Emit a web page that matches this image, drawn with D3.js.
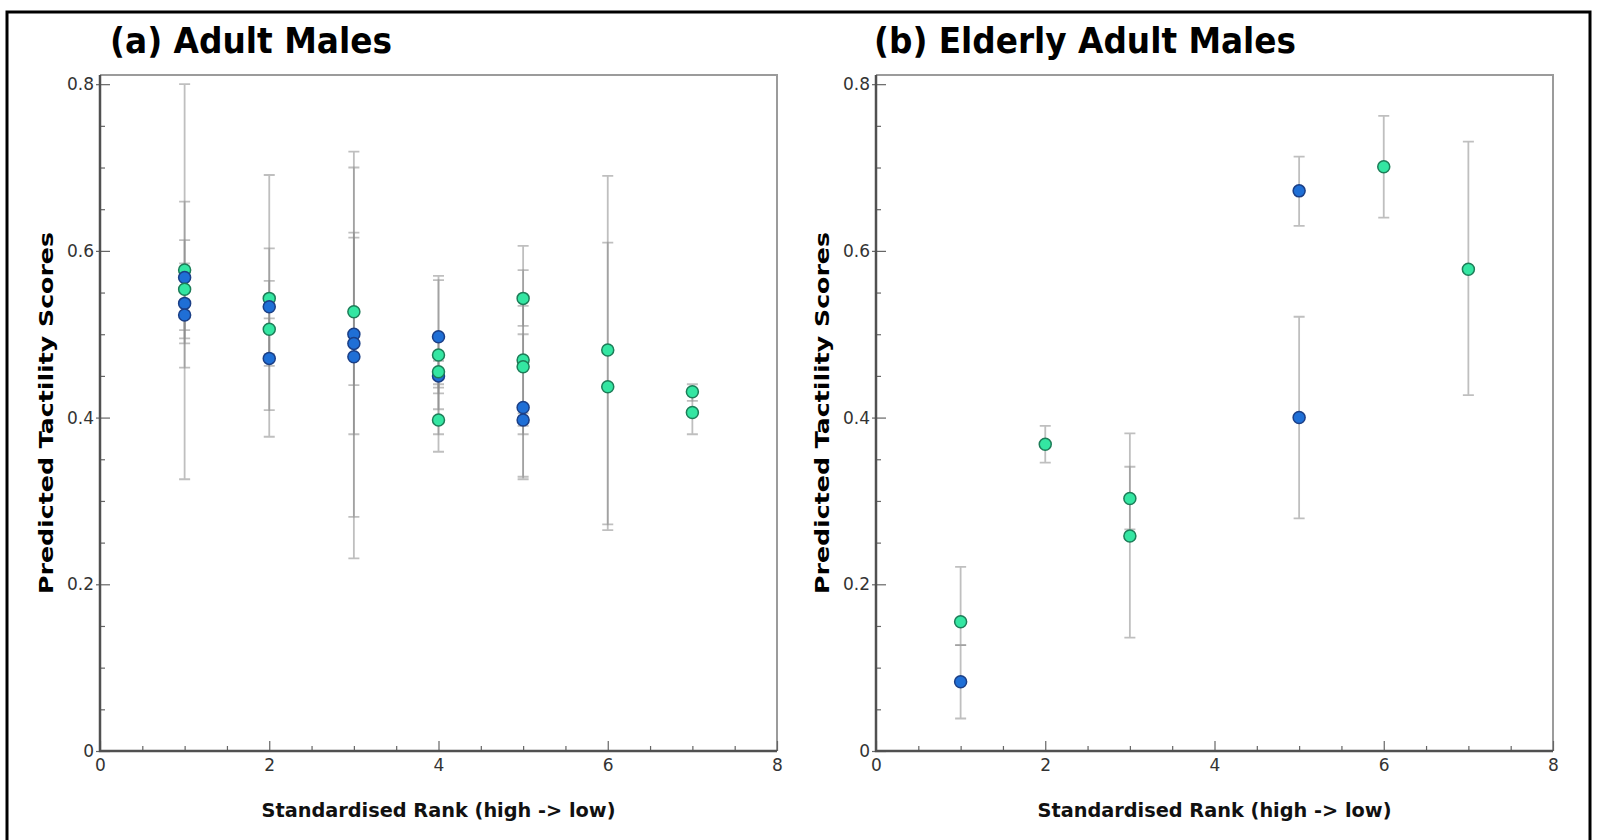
<!DOCTYPE html>
<html>
<head>
<meta charset="utf-8">
<script src="https://cdn.jsdelivr.net/npm/d3@7"></script>
<style>
  body { margin: 0; background: #fff; }
  svg { display: block; }
</style>
</head>
<body>
<svg id="chart" width="1597" height="840"></svg>
<script>
// ---- Panel (a): adult males ----
const adultRank  = [1, 1, 1, 1, 1,   2, 2, 2, 2,   3, 3, 3, 3,   4, 4, 4, 4, 4,   5, 5, 5, 5, 5,   6, 6,   7, 7];
const adultScore = [0.577, 0.568, 0.554, 0.537, 0.523,
                    0.543, 0.533, 0.506, 0.471,
                    0.527, 0.500, 0.489, 0.473,
                    0.497, 0.475, 0.450, 0.455, 0.397,
                    0.543, 0.469, 0.461, 0.412, 0.397,
                    0.481, 0.437,
                    0.431, 0.406];
const adultLower = [0.326, 0.460, 0.495, 0.489, 0.505,
                    0.377, 0.409, 0.476, 0.462,
                    0.231, 0.281, 0.380, 0.439,
                    0.429, 0.380, 0.436, 0.410, 0.359,
                    0.510, 0.329, 0.380, 0.326, 0.390,
                    0.265, 0.272,
                    0.420, 0.380];
const adultUpper = [0.800, 0.659, 0.613, 0.585, 0.541,
                    0.691, 0.603, 0.564, 0.519,
                    0.719, 0.700, 0.622, 0.616,
                    0.565, 0.570, 0.468, 0.500, 0.440,
                    0.577, 0.606, 0.534, 0.500, 0.405,
                    0.690, 0.610,
                    0.440, 0.430];
const adultGroup = ["green", "blue", "green", "blue", "blue",
                    "green", "blue", "green", "blue",
                    "green", "blue", "blue", "blue",
                    "blue", "green", "blue", "green", "green",
                    "green", "green", "green", "blue", "blue",
                    "green", "green",
                    "green", "green"];

// ---- Panel (b): elderly adult males ----
const elderRank  = [1, 1,   2,   3, 3,   5, 5,   6,   7];
const elderScore = [0.155, 0.083, 0.368, 0.303, 0.258, 0.672, 0.400, 0.701, 0.578];
const elderLower = [0.127, 0.039, 0.346, 0.266, 0.136, 0.630, 0.279, 0.640, 0.427];
const elderUpper = [0.221, 0.127, 0.390, 0.341, 0.381, 0.713, 0.521, 0.762, 0.731];
const elderGroup = ["green", "blue", "green", "green", "green", "blue", "blue", "green", "green"];

// ---- Axes ----
const xTickValues = [0, 2, 4, 6, 8];
const xTickLabels = ["0", "2", "4", "6", "8"];
const yTickValues = [0, 0.2, 0.4, 0.6, 0.8];
const yTickLabels = ["0", "0.2", "0.4", "0.6", "0.8"];
const xMinorStep = 0.5;
const yMinorStep = 0.05;

const panelTitles = ["(a) Adult Males", "(b) Elderly Adult Males"];
const xAxisTitle = "Standardised Rank (high -> low)";
const yAxisTitle = "Predicted Tactility Scores";

const groupFill   = { blue: "#1f6fd6", green: "#34e6a2" };
const groupStroke = { blue: "#1b3f86", green: "#1d7d58" };

const svg = d3.select("#chart");

// outer black frame (bottom edge runs off the page)
svg.append("rect")
  .attr("x", 7).attr("y", 12)
  .attr("width", 1583).attr("height", 860)
  .attr("fill", "none").attr("stroke", "#000").attr("stroke-width", 3);

function zip(rank, score, lower, upper, group) {
  return rank.map((r, i) => ({ rank: r, score: score[i], lower: lower[i], upper: upper[i], group: group[i] }));
}

function drawPanel(opt) {
  const x = d3.scaleLinear().domain([0, 8]).range([opt.left, opt.left + 677]);
  const y = d3.scaleLinear().domain([0, 0.811]).range([751, 75]);
  const g = svg.append("g");

  // panel title
  g.append("text")
    .attr("x", opt.titleX).attr("y", 53)
    .attr("font-family", "DejaVu Sans, Verdana, sans-serif")
    .attr("font-weight", "bold").attr("font-size", 35)
    .attr("fill", "#000")
    .attr("textLength", opt.titleLen).attr("lengthAdjust", "spacingAndGlyphs")
    .text(opt.title);

  // top and right frame of the plot area
  g.append("path")
    .attr("d", `M${x(0)},${y(0.811)} H${x(8)} V${y(0)}`)
    .attr("fill", "none").attr("stroke", "#9b9b9b").attr("stroke-width", 2);

  // minor ticks (inside)
  const yMinor = d3.range(0, 0.8001, yMinorStep).filter(v => !yTickValues.some(t => Math.abs(t - v) < 1e-6));
  const xMinor = d3.range(0, 8.001, xMinorStep).filter(v => !xTickValues.some(t => Math.abs(t - v) < 1e-6));

  const yMinorAxis = d3.axisLeft(y).tickValues(yMinor).tickSizeInner(-5).tickSizeOuter(0).tickFormat("");
  const xMinorAxis = d3.axisBottom(x).tickValues(xMinor).tickSizeInner(-5).tickSizeOuter(0).tickFormat("");
  g.append("g").attr("transform", `translate(${x(0)},0)`).call(yMinorAxis)
    .call(s => s.select(".domain").remove())
    .call(s => s.selectAll("line").attr("stroke", "#666").attr("stroke-width", 1.2));
  g.append("g").attr("transform", `translate(0,${y(0)})`).call(xMinorAxis)
    .call(s => s.select(".domain").remove())
    .call(s => s.selectAll("line").attr("stroke", "#666").attr("stroke-width", 1.2));

  // short outward nubs on the labelled y ticks
  const yNub = d3.axisLeft(y).tickValues(yTickValues).tickSizeInner(4).tickSizeOuter(0).tickFormat("");
  g.append("g").attr("transform", `translate(${x(0)},0)`).call(yNub)
    .call(s => s.select(".domain").remove())
    .call(s => s.selectAll("line").attr("stroke", "#666").attr("stroke-width", 1.2));

  // major y axis with labels
  const yAxis = d3.axisLeft(y).tickValues(yTickValues)
    .tickSizeInner(-10).tickSizeOuter(0).tickPadding(6)
    .tickFormat((d, i) => yTickLabels[i]);
  g.append("g").attr("transform", `translate(${x(0)},0)`).call(yAxis)
    .call(s => s.select(".domain").remove())
    .call(s => s.selectAll("line").attr("stroke", "#666").attr("stroke-width", 1.2))
    .call(s => s.selectAll("text")
      .attr("font-family", "DejaVu Sans, Verdana, sans-serif")
      .attr("font-size", 17).attr("fill", "#333"));

  // major x axis with labels
  const xAxis = d3.axisBottom(x).tickValues(xTickValues)
    .tickSizeInner(-10).tickSizeOuter(0).tickPadding(8)
    .tickFormat((d, i) => xTickLabels[i]);
  g.append("g").attr("transform", `translate(0,${y(0)})`).call(xAxis)
    .call(s => s.select(".domain").remove())
    .call(s => s.selectAll("line").attr("stroke", "#666").attr("stroke-width", 1.2))
    .call(s => s.selectAll("text")
      .attr("font-family", "DejaVu Sans, Verdana, sans-serif")
      .attr("font-size", 17).attr("fill", "#333"));

  // left and bottom axis lines
  g.append("path")
    .attr("d", `M${x(0)},${y(0.811)} V${y(0)} H${x(8)}`)
    .attr("fill", "none").attr("stroke", "#505050").attr("stroke-width", 2.5);

  // axis titles
  g.append("text")
    .attr("x", (x(0) + x(8)) / 2).attr("y", 817)
    .attr("text-anchor", "middle")
    .attr("font-family", "DejaVu Sans, Verdana, sans-serif")
    .attr("font-weight", "bold").attr("font-size", 19).attr("fill", "#111")
    .attr("textLength", 354).attr("lengthAdjust", "spacingAndGlyphs")
    .text(xAxisTitle);

  g.append("text")
    .attr("transform", `translate(${opt.yTitleX},413) rotate(-90)`)
    .attr("text-anchor", "middle")
    .attr("font-family", "DejaVu Sans, Verdana, sans-serif")
    .attr("font-weight", "bold").attr("font-size", 20).attr("fill", "#000")
    .attr("textLength", 362).attr("lengthAdjust", "spacingAndGlyphs")
    .text(yAxisTitle);

  const data = opt.data;
  const capHalf = 5.5;

  // error bars
  const bars = g.append("g")
    .attr("stroke", "#8a8a8a").attr("stroke-opacity", 0.55).attr("stroke-width", 1.8).attr("fill", "none");
  bars.selectAll("path").data(data).join("path")
    .attr("d", d => {
      const cx = x(d.rank), y0 = y(d.lower), y1 = y(d.upper);
      return `M${cx},${y0} V${y1} M${cx - capHalf},${y0} H${cx + capHalf} M${cx - capHalf},${y1} H${cx + capHalf}`;
    });

  // points
  g.append("g").selectAll("circle").data(data).join("circle")
    .attr("cx", d => x(d.rank))
    .attr("cy", d => y(d.score))
    .attr("r", 6)
    .attr("fill", d => groupFill[d.group])
    .attr("stroke", d => groupStroke[d.group])
    .attr("stroke-width", 1.5);
}

drawPanel({
  left: 100, title: panelTitles[0], titleX: 110, titleLen: 282, yTitleX: 53,
  data: zip(adultRank, adultScore, adultLower, adultUpper, adultGroup)
});
drawPanel({
  left: 876, title: panelTitles[1], titleX: 874, titleLen: 422, yTitleX: 829,
  data: zip(elderRank, elderScore, elderLower, elderUpper, elderGroup)
});
</script>
</body>
</html>
